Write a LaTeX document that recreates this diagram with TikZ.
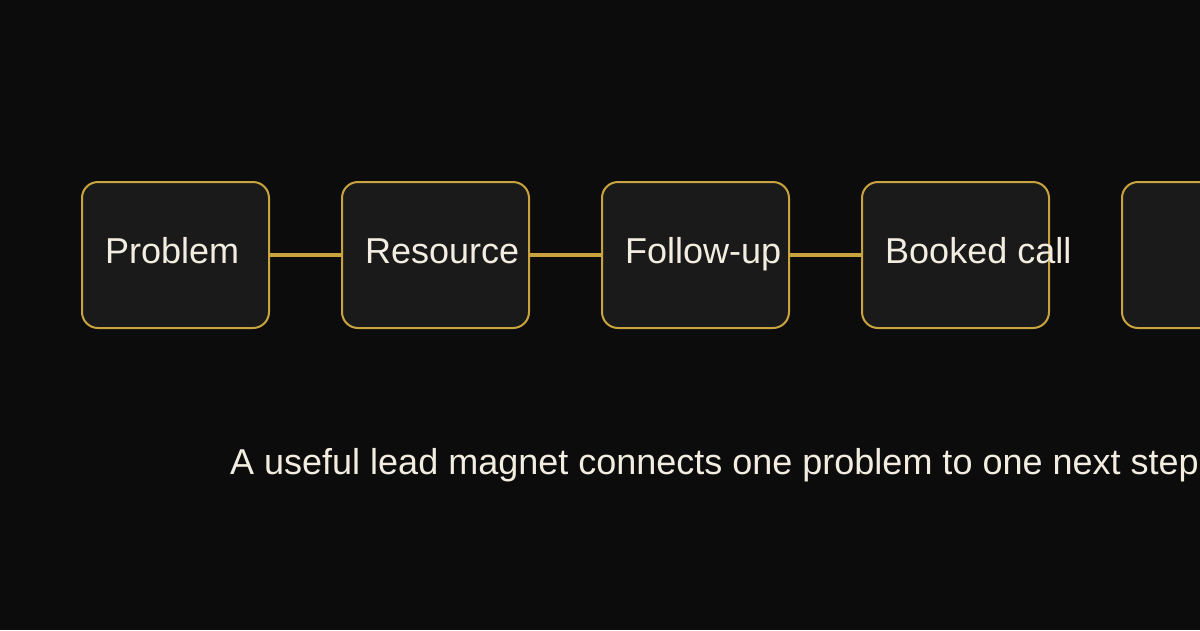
\documentclass[tikz,border=0pt]{standalone}
\usepackage{fontspec}
\setmainfont{Liberation Sans}
\usetikzlibrary{positioning}
\definecolor{bgdark}{HTML}{0C0C0C}
\definecolor{boxfill}{HTML}{1A1A1A}
\definecolor{gold}{HTML}{C9A43E}
\definecolor{cream}{HTML}{F2EDE0}

\begin{document}
\begin{tikzpicture}[x=1pt, y=-1pt]
\tikzset{stepbox/.style={rectangle, rounded corners=16pt, draw=gold, line width=2pt, fill=boxfill,
  minimum width=187pt, minimum height=146pt, outer sep=0pt}}
\tikzset{steplabel/.style={anchor=base west, inner sep=0pt, text=cream, font=\fontsize{36}{42}\selectfont}}
\tikzset{link/.style={draw=gold, line width=4pt}}

\useasboundingbox (0,0) rectangle (1200,630);
\fill[bgdark] (0,0) rectangle (1200,630);
\clip (0,0) rectangle (1200,630);

% Steps
\node[stepbox] (problem) at (175.5,255) {};
\node[stepbox] (resource) at (435.5,255) {};
\node[stepbox] (followup) at (695.5,255) {};
\node[stepbox] (booked) at (955.5,255) {};
\node[stepbox] (next) at (1215.5,255) {};

% Labels
\node[steplabel] (problemtxt) at (105,263) {Problem};
\node[steplabel] (resourcetxt) at (365,263) {Resource};
\node[steplabel] (followuptxt) at (625,263) {Follow-up};
\node[steplabel] (bookedtxt) at (885,263) {Booked call};

% Links
\draw[link] (problem) -- (resource);
\draw[link] (resource) -- (followup);
\draw[link] (followup) -- (booked);

% Caption
\node[steplabel] (caption) at (230,474)
  {A useful lead magnet connects one problem to one next step};
\end{tikzpicture}
\end{document}
